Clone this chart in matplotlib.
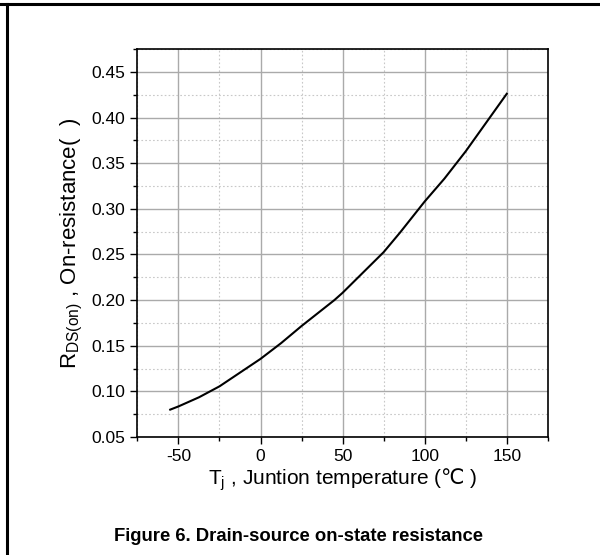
import numpy as np
import matplotlib.pyplot as plt
from matplotlib.lines import Line2D

plt.rcParams['font.family'] = ['Liberation Sans', 'DejaVu Sans']
plt.rcParams['mathtext.fontset'] = 'custom'
plt.rcParams['mathtext.rm'] = 'Liberation Sans'
plt.rcParams['mathtext.it'] = 'Liberation Sans:italic'
plt.rcParams['mathtext.sf'] = 'DejaVu Sans'
plt.rcParams['mathtext.fallback'] = 'stix'
plt.rcParams['axes.unicode_minus'] = False

""" Data read off the curve """
temp = [-55, -50, -37.5, -25, 0, 12.5, 25, 45, 50, 75, 85, 100, 112, 125, 137.5, 150]
rds_on = [0.080, 0.0835, 0.0935, 0.1055, 0.1356, 0.1528, 0.1716, 0.200, 0.208,
          0.2525, 0.274, 0.308, 0.333, 0.363, 0.3945, 0.426]

x_ticks = [-50, 0, 50, 100, 150]
y_ticks = [0.05, 0.10, 0.15, 0.20, 0.25, 0.30, 0.35, 0.40, 0.45]

""" Plot """
fig = plt.figure(figsize=(6, 5.55), dpi=100)
ax = fig.add_axes([0.229, 0.2126, 0.684, 0.699])

ax.plot(temp, rds_on, color='black', lw=1.5)

ax.set_xlim(-75, 175)
ax.set_ylim(0.05, 0.475)
ax.set_xticks(x_ticks)
ax.set_xticks(np.arange(-75, 176, 25), minor=True)
ax.set_yticks(y_ticks)
ax.set_yticks(np.arange(0.075, 0.476, 0.05), minor=True)
ax.set_yticklabels(['%.2f' % v for v in y_ticks])

ax.grid(which='major', color='#aaaaaa', lw=1.0, ls='-')
ax.grid(which='minor', color='#c8c8c8', lw=0.8, ls=(0, (1.5, 2)))
ax.set_axisbelow(True)

ax.tick_params(which='major', direction='out', length=5, width=1, labelsize=12.5)
ax.tick_params(which='minor', direction='out', length=3, width=1)
for s in ax.spines.values():
    s.set_linewidth(1.2)

ax.set_xlabel(r'T$_{\rm j}$ , Juntion temperature ($\mathsf{℃}$ )', fontsize=15, labelpad=2)
ax.set_ylabel(r'R$_{\rm DS(on)}$ , On-resistance(  )', fontsize=16, labelpad=5)

fig.text(0.497, 0.034, 'Figure 6. Drain-source on-state resistance',
         ha='center', va='center', fontsize=13.3, fontweight='bold')

# page border lines
fig.add_artist(Line2D([0, 1], [0.9928, 0.9928], color='black', lw=2.2,
                      transform=fig.transFigure))
fig.add_artist(Line2D([0.0117, 0.0117], [0, 0.9928], color='black', lw=2.2,
                      transform=fig.transFigure))

fig.savefig('out.png', dpi=100)
